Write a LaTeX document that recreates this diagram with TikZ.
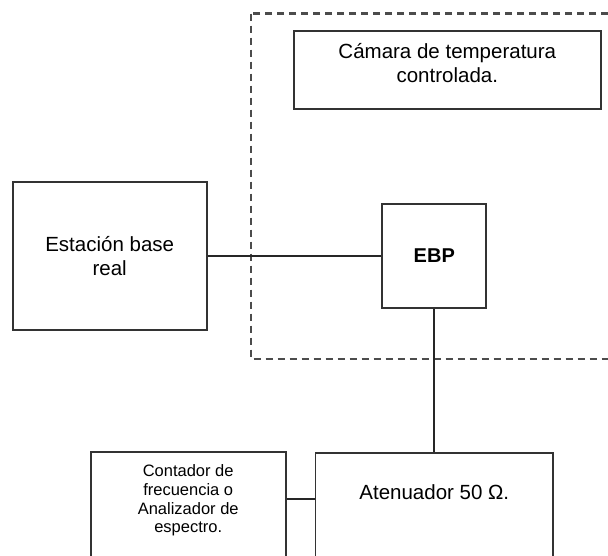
\documentclass[tikz,border=0pt]{standalone}
\usepackage{fontspec}
\setmainfont{Liberation Sans}
\begin{document}
\begin{tikzpicture}[x=1pt,y=-1pt,
  boxs/.style={draw=black!80, line width=1.9pt, inner sep=0pt, align=center},
  lbl/.style={inner sep=0pt, align=center, font=\fontsize{20.5}{24}\selectfont},
  smalllbl/.style={inner sep=0pt, align=center, font=\fontsize{16.5}{18.6}\selectfont},
  wire/.style={draw=black!85, line width=1.8pt},
  dashbox/.style={draw=black!70, line width=2.4pt, dash pattern=on 7pt off 5pt}]
\useasboundingbox (0,0) rectangle (608,555);
\clip (0,0) rectangle (608,555);
\fill[white] (0,0) rectangle (608,555);
% dashed enclosure
\coordinate (dtl) at (250.7,13.5);
\coordinate (dtr) at (620,13.5);
\coordinate (dbl) at (250.7,358.7);
\coordinate (dbr) at (620,358.7);
\draw[dashbox] (dtr) -- (dtl);
\draw[dashbox] (dtl) -- (dbl) -- (dbr);
% boxes
\node[boxs, minimum width=306.7pt, minimum height=78pt] (cam) at (447.3,70) {};
\node[lbl] (camt) at (447.3,63.3) {Cámara de temperatura\\controlada.};
\node[boxs, minimum width=194pt, minimum height=148.7pt, font=\fontsize{20.5}{23.5}\selectfont] (est) at (109.7,256) {Estación base\\real};
\node[boxs, minimum width=104pt, minimum height=104.4pt, font=\fontsize{20}{24}\selectfont\bfseries] (ebp) at (434.3,256) {EBP};
\node[boxs, minimum width=237.6pt, minimum height=126.7pt] (aten) at (434.3,516.7) {};
\node[lbl] (atent) at (434.3,492) {Atenuador 50 Ω.};
\node[boxs, minimum width=195pt, minimum height=128.3pt] (cont) at (188.2,515.8) {};
\node[smalllbl] (contt) at (188.2,500.5) {Contador de\\frecuencia o\\Analizador de\\espectro.};
% connectors
\draw[wire] (est.east) -- (ebp.west);
\draw[wire] (ebp.south) -- (aten.north);
\coordinate (cy) at (0,499.3);
\draw[wire] (cont.east |- cy) -- (aten.west |- cy);
\end{tikzpicture}
\end{document}
